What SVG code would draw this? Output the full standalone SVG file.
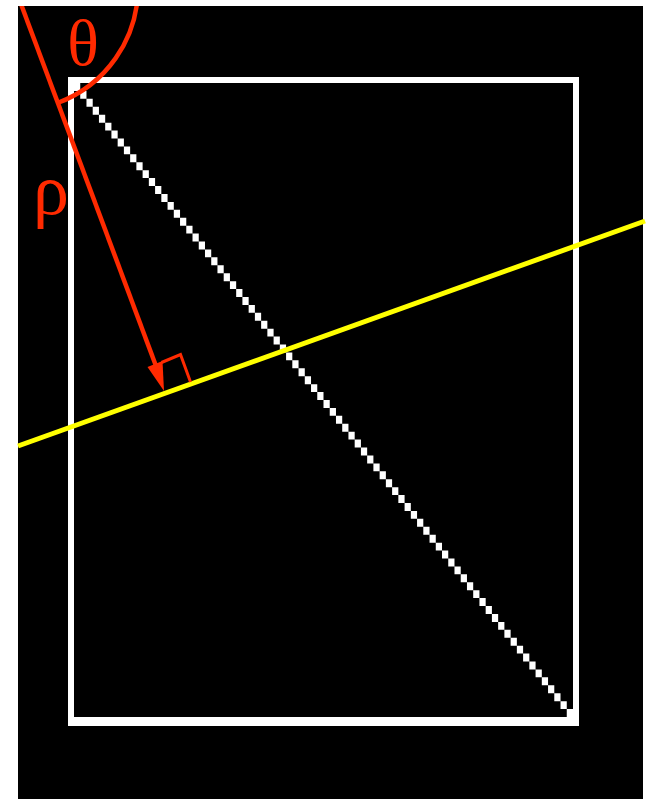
<svg xmlns="http://www.w3.org/2000/svg" width="650" height="799" viewBox="0 0 650 799">
<defs>
<style>
.red{stroke:#ff2a00;fill:none;stroke-linecap:butt}
.lbl{font-family:"Liberation Serif","DejaVu Serif",serif;fill:#ff2a00;text-anchor:middle}
</style>
<clipPath id="clipTop"><rect x="0" y="6" width="650" height="793"/></clipPath>
</defs>
<rect x="0" y="0" width="650" height="799" fill="#ffffff"/>
<rect id="background" x="18" y="6" width="625" height="793" fill="#000000"/>
<g id="frame" fill="#ffffff">
<rect x="68" y="77" width="6" height="649"/>
<rect x="573" y="77" width="6" height="649"/>
<rect x="68" y="77" width="511" height="6"/>
<rect x="68" y="717" width="511" height="9"/>
</g>
<g id="diagonal" fill="#ffffff">
<path d="M74,83h6.2375v7.925h-6.2375zm6.2375,7.925h6.2375v7.925h-6.2375zm6.2375,7.925h6.2375v7.925h-6.2375zm6.2375,7.925h6.2375v7.925h-6.2375zm6.2375,7.925h6.2375v7.925h-6.2375zm6.2375,7.925h6.2375v7.925h-6.2375zm6.2375,7.925h6.2375v7.925h-6.2375zm6.2375,7.925h6.2375v7.925h-6.2375zm6.2375,7.925h6.2375v7.925h-6.2375zm6.2375,7.925h6.2375v7.925h-6.2375zm6.2375,7.925
h6.2375v7.925h-6.2375zm6.2375,7.925h6.2375v7.925h-6.2375zm6.2375,7.925h6.2375v7.925h-6.2375zm6.2375,7.925h6.2375v7.925h-6.2375zm6.2375,7.925h6.2375v7.925h-6.2375zm6.2375,7.925h6.2375v7.925h-6.2375zm6.2375,7.925h6.2375v7.925h-6.2375zm6.2375,7.925h6.2375v7.925h-6.2375zm6.2375,7.925h6.2375v7.925h-6.2375zm6.2375,7.925h6.2375v7.925h-6.2375zm6.2375,7.925
h6.2375v7.925h-6.2375zm6.2375,7.925h6.2375v7.925h-6.2375zm6.2375,7.925h6.2375v7.925h-6.2375zm6.2375,7.925h6.2375v7.925h-6.2375zm6.2375,7.925h6.2375v7.925h-6.2375zm6.2375,7.925h6.2375v7.925h-6.2375zm6.2375,7.925h6.2375v7.925h-6.2375zm6.2375,7.925h6.2375v7.925h-6.2375zm6.2375,7.925h6.2375v7.925h-6.2375zm6.2375,7.925h6.2375v7.925h-6.2375zm6.2375,7.925
h6.2375v7.925h-6.2375zm6.2375,7.925h6.2375v7.925h-6.2375zm6.2375,7.925h6.2375v7.925h-6.2375zm6.2375,7.925h6.2375v7.925h-6.2375zm6.2375,7.925h6.2375v7.925h-6.2375zm6.2375,7.925h6.2375v7.925h-6.2375zm6.2375,7.925h6.2375v7.925h-6.2375zm6.2375,7.925h6.2375v7.925h-6.2375zm6.2375,7.925h6.2375v7.925h-6.2375zm6.2375,7.925h6.2375v7.925h-6.2375zm6.2375,7.925
h6.2375v7.925h-6.2375zm6.2375,7.925h6.2375v7.925h-6.2375zm6.2375,7.925h6.2375v7.925h-6.2375zm6.2375,7.925h6.2375v7.925h-6.2375zm6.2375,7.925h6.2375v7.925h-6.2375zm6.2375,7.925h6.2375v7.925h-6.2375zm6.2375,7.925h6.2375v7.925h-6.2375zm6.2375,7.925h6.2375v7.925h-6.2375zm6.2375,7.925h6.2375v7.925h-6.2375zm6.2375,7.925h6.2375v7.925h-6.2375zm6.2375,7.925
h6.2375v7.925h-6.2375zm6.2375,7.925h6.2375v7.925h-6.2375zm6.2375,7.925h6.2375v7.925h-6.2375zm6.2375,7.925h6.2375v7.925h-6.2375zm6.2375,7.925h6.2375v7.925h-6.2375zm6.2375,7.925h6.2375v7.925h-6.2375zm6.2375,7.925h6.2375v7.925h-6.2375zm6.2375,7.925h6.2375v7.925h-6.2375zm6.2375,7.925h6.2375v7.925h-6.2375zm6.2375,7.925h6.2375v7.925h-6.2375zm6.2375,7.925
h6.2375v7.925h-6.2375zm6.2375,7.925h6.2375v7.925h-6.2375zm6.2375,7.925h6.2375v7.925h-6.2375zm6.2375,7.925h6.2375v7.925h-6.2375zm6.2375,7.925h6.2375v7.925h-6.2375zm6.2375,7.925h6.2375v7.925h-6.2375zm6.2375,7.925h6.2375v7.925h-6.2375zm6.2375,7.925h6.2375v7.925h-6.2375zm6.2375,7.925h6.2375v7.925h-6.2375zm6.2375,7.925h6.2375v7.925h-6.2375zm6.2375,7.925
h6.2375v7.925h-6.2375zm6.2375,7.925h6.2375v7.925h-6.2375zm6.2375,7.925h6.2375v7.925h-6.2375zm6.2375,7.925h6.2375v7.925h-6.2375zm6.2375,7.925h6.2375v7.925h-6.2375zm6.2375,7.925h6.2375v7.925h-6.2375zm6.2375,7.925h6.2375v7.925h-6.2375zm6.2375,7.925h6.2375v7.925h-6.2375zm6.2375,7.925h6.2375v7.925h-6.2375zm6.2375,7.925h6.2375v7.925h-6.2375z"/>
</g>
<g id="connectors">
<line id="yellow-line" x1="18" y1="446" x2="645" y2="221" stroke="#ffff00" stroke-width="5"/>
<g clip-path="url(#clipTop)">
<line id="rho-line" class="red" x1="15" y1="-12" x2="156" y2="366" stroke-width="4.5"/>
<polygon id="rho-arrowhead" points="164,391 147.5,367 162.5,361" fill="#ff2a00"/>
<path id="theta-arc" class="red" d="M138,-12A123,123 0 0 1 57.4,103" stroke-width="4.5"/>
<polyline id="right-angle" class="red" points="161.5,362.5 180.5,354.5 190.5,382" stroke-width="3"/>
</g>
</g>
<g id="labels">
<text id="theta" class="lbl" x="83" y="65" font-size="66">θ</text>
<text id="rho" class="lbl" x="51" y="214" font-size="72">ρ</text>
</g>
</svg>
